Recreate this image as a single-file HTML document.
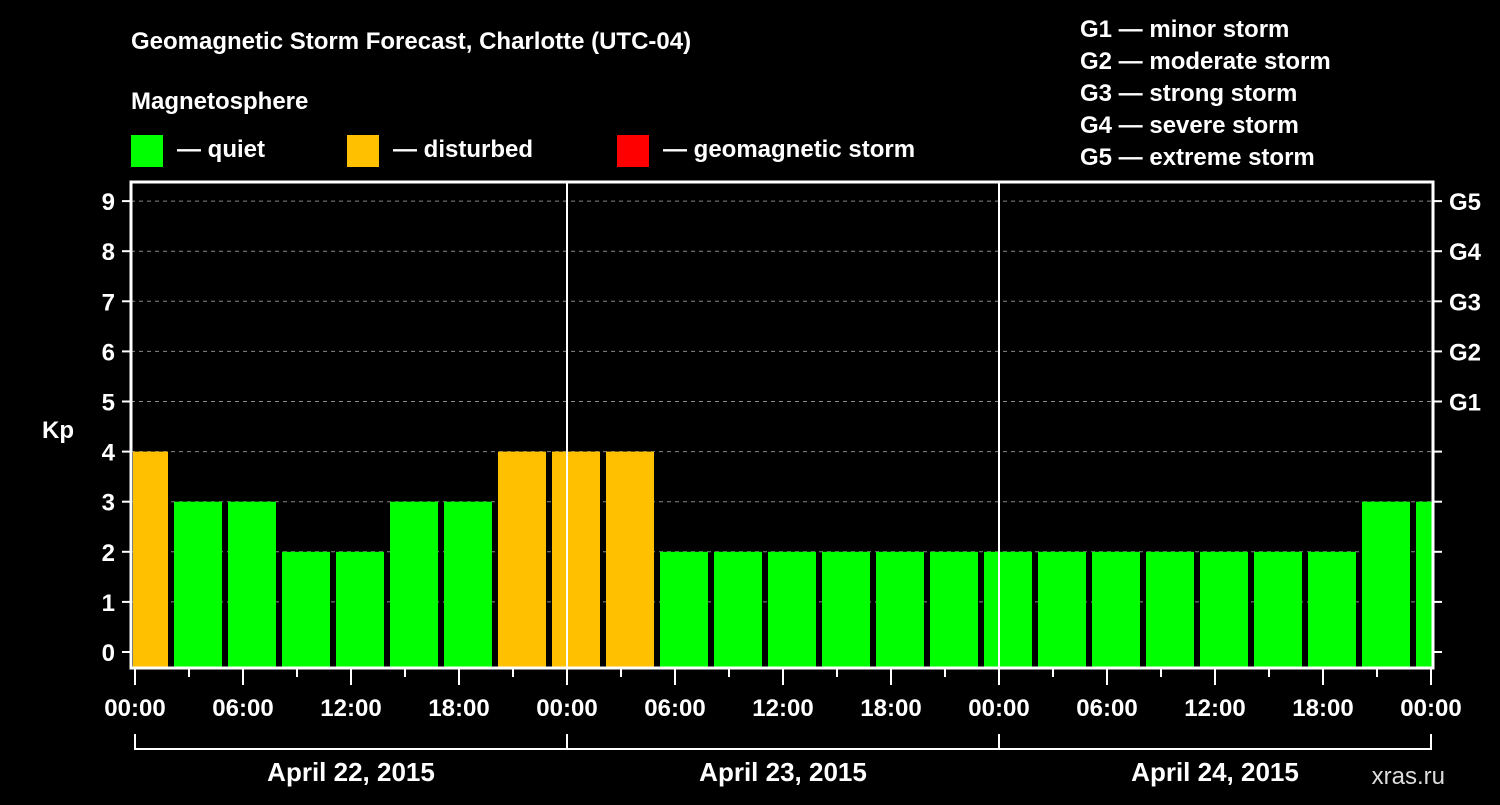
<!DOCTYPE html>
<html><head><meta charset="utf-8"><style>
body{margin:0;background:#000;width:1500px;height:800px;overflow:hidden}
svg text{font-family:"Liberation Sans",sans-serif;font-weight:bold;fill:#fff}
</style></head><body>
<svg id="c" width="1500" height="800">
<text x="131" y="49" font-size="24">Geomagnetic Storm Forecast, Charlotte (UTC-04)</text>
<text x="131" y="109" font-size="24">Magnetosphere</text>
<g><rect x="131" y="135" width="32" height="32" fill="#00ff00"/><text x="177" y="157" font-size="24">— quiet</text></g>
<g><rect x="347" y="135" width="32" height="32" fill="#ffc000"/><text x="393" y="157" font-size="24">— disturbed</text></g>
<g><rect x="617" y="135" width="32" height="32" fill="#ff0000"/><text x="663" y="157" font-size="24">— geomagnetic storm</text></g>
<g font-size="24">
<text x="1080" y="37">G1 — minor storm</text><text x="1080" y="69">G2 — moderate storm</text><text x="1080" y="101">G3 — strong storm</text><text x="1080" y="133">G4 — severe storm</text><text x="1080" y="165">G5 — extreme storm</text></g>
<text x="42" y="438" font-size="24">Kp</text>
<text x="1445" y="784" font-size="24" fill="#fff" style="fill:#ddd;font-weight:normal" text-anchor="end">xras.ru</text>
<g id="g"></g>
</svg>
<script>
const kpValues=[4,3,3,2,2,3,3,4,4,4,2,2,2,2,2,2,2,2,2,2,2,2,2,3,3];
const yTicks=[0,1,2,3,4,5,6,7,8,9];
const gLabels=["G1","G2","G3","G4","G5"];
const gLevels=[5,6,7,8,9];
const xLabels=["00:00","06:00","12:00","18:00","00:00","06:00","12:00","18:00","00:00","06:00","12:00","18:00","00:00"];
const dayLabels=["April 22, 2015","April 23, 2015","April 24, 2015"];
const NS="http://www.w3.org/2000/svg",g=document.getElementById('g');
const L=131,R=1433,T=182,B=668;
const x=h=>135+h*18, y=v=>652-v*50.1;
function el(t,a){const e=document.createElementNS(NS,t);for(const k in a)e.setAttribute(k,a[k]);g.appendChild(e);return e;}
const clip=el('clipPath',{id:'pc'});clip.appendChild(document.createElementNS(NS,'rect'));
const cr=clip.firstChild;cr.setAttribute('x',L+2);cr.setAttribute('y',T);cr.setAttribute('width',R-L-3);cr.setAttribute('height',B-T);
yTicks.forEach(v=>{
 if(v>0){const l=el('line',{x1:L,x2:R,y1:y(v),y2:y(v),stroke:'#888','stroke-dasharray':'4 4'});
 
 }
 el('line',{x1:L-9,x2:L,y1:y(v),y2:y(v),stroke:'#fff','stroke-width':2});
 el('line',{x1:R,x2:R+9,y1:y(v),y2:y(v),stroke:'#fff','stroke-width':2});
 const t=el('text',{x:115,y:y(v)+9,'font-size':24,'text-anchor':'end'});t.textContent=v;
 
 
});
gLevels.forEach((v,i)=>{const t=el('text',{x:1449,y:y(v)+9,'font-size':24});t.textContent=gLabels[i];
 
 });
kpValues.forEach((v,i)=>{const c=x(0.5+3*i);
 const r=el('rect',{x:c-24,y:y(v),width:48,height:B-y(v),fill:v>=5?'#ff0000':v>=4?'#ffc000':'#00ff00','clip-path':'url(#pc)'});
 
 });
[24,48].forEach(h=>el('line',{x1:x(h),x2:x(h),y1:T,y2:B,stroke:'#fff','stroke-width':2}));
const f=el('rect',{x:L,y:T,width:R-L,height:B-T,fill:'none',stroke:'#fff','stroke-width':3});

for(let h=0;h<=72;h+=3){el('line',{x1:x(h),x2:x(h),y1:B,y2:h%6?677:685,stroke:'#fff','stroke-width':2});}
xLabels.forEach((s,i)=>{const t=el('text',{x:x(i*6),y:716,'font-size':24,'text-anchor':'middle'});t.textContent=s;
 
 });
el('line',{x1:x(0),x2:x(72),y1:749,y2:749,stroke:'#fff','stroke-width':2});
[0,24,48,72].forEach(h=>el('line',{x1:x(h),x2:x(h),y1:734,y2:750,stroke:'#fff','stroke-width':2}));
dayLabels.forEach((s,i)=>{const t=el('text',{x:x(12+24*i),y:781,'font-size':26,'text-anchor':'middle'});t.textContent=s;
 
 });
</script>
</body></html>
